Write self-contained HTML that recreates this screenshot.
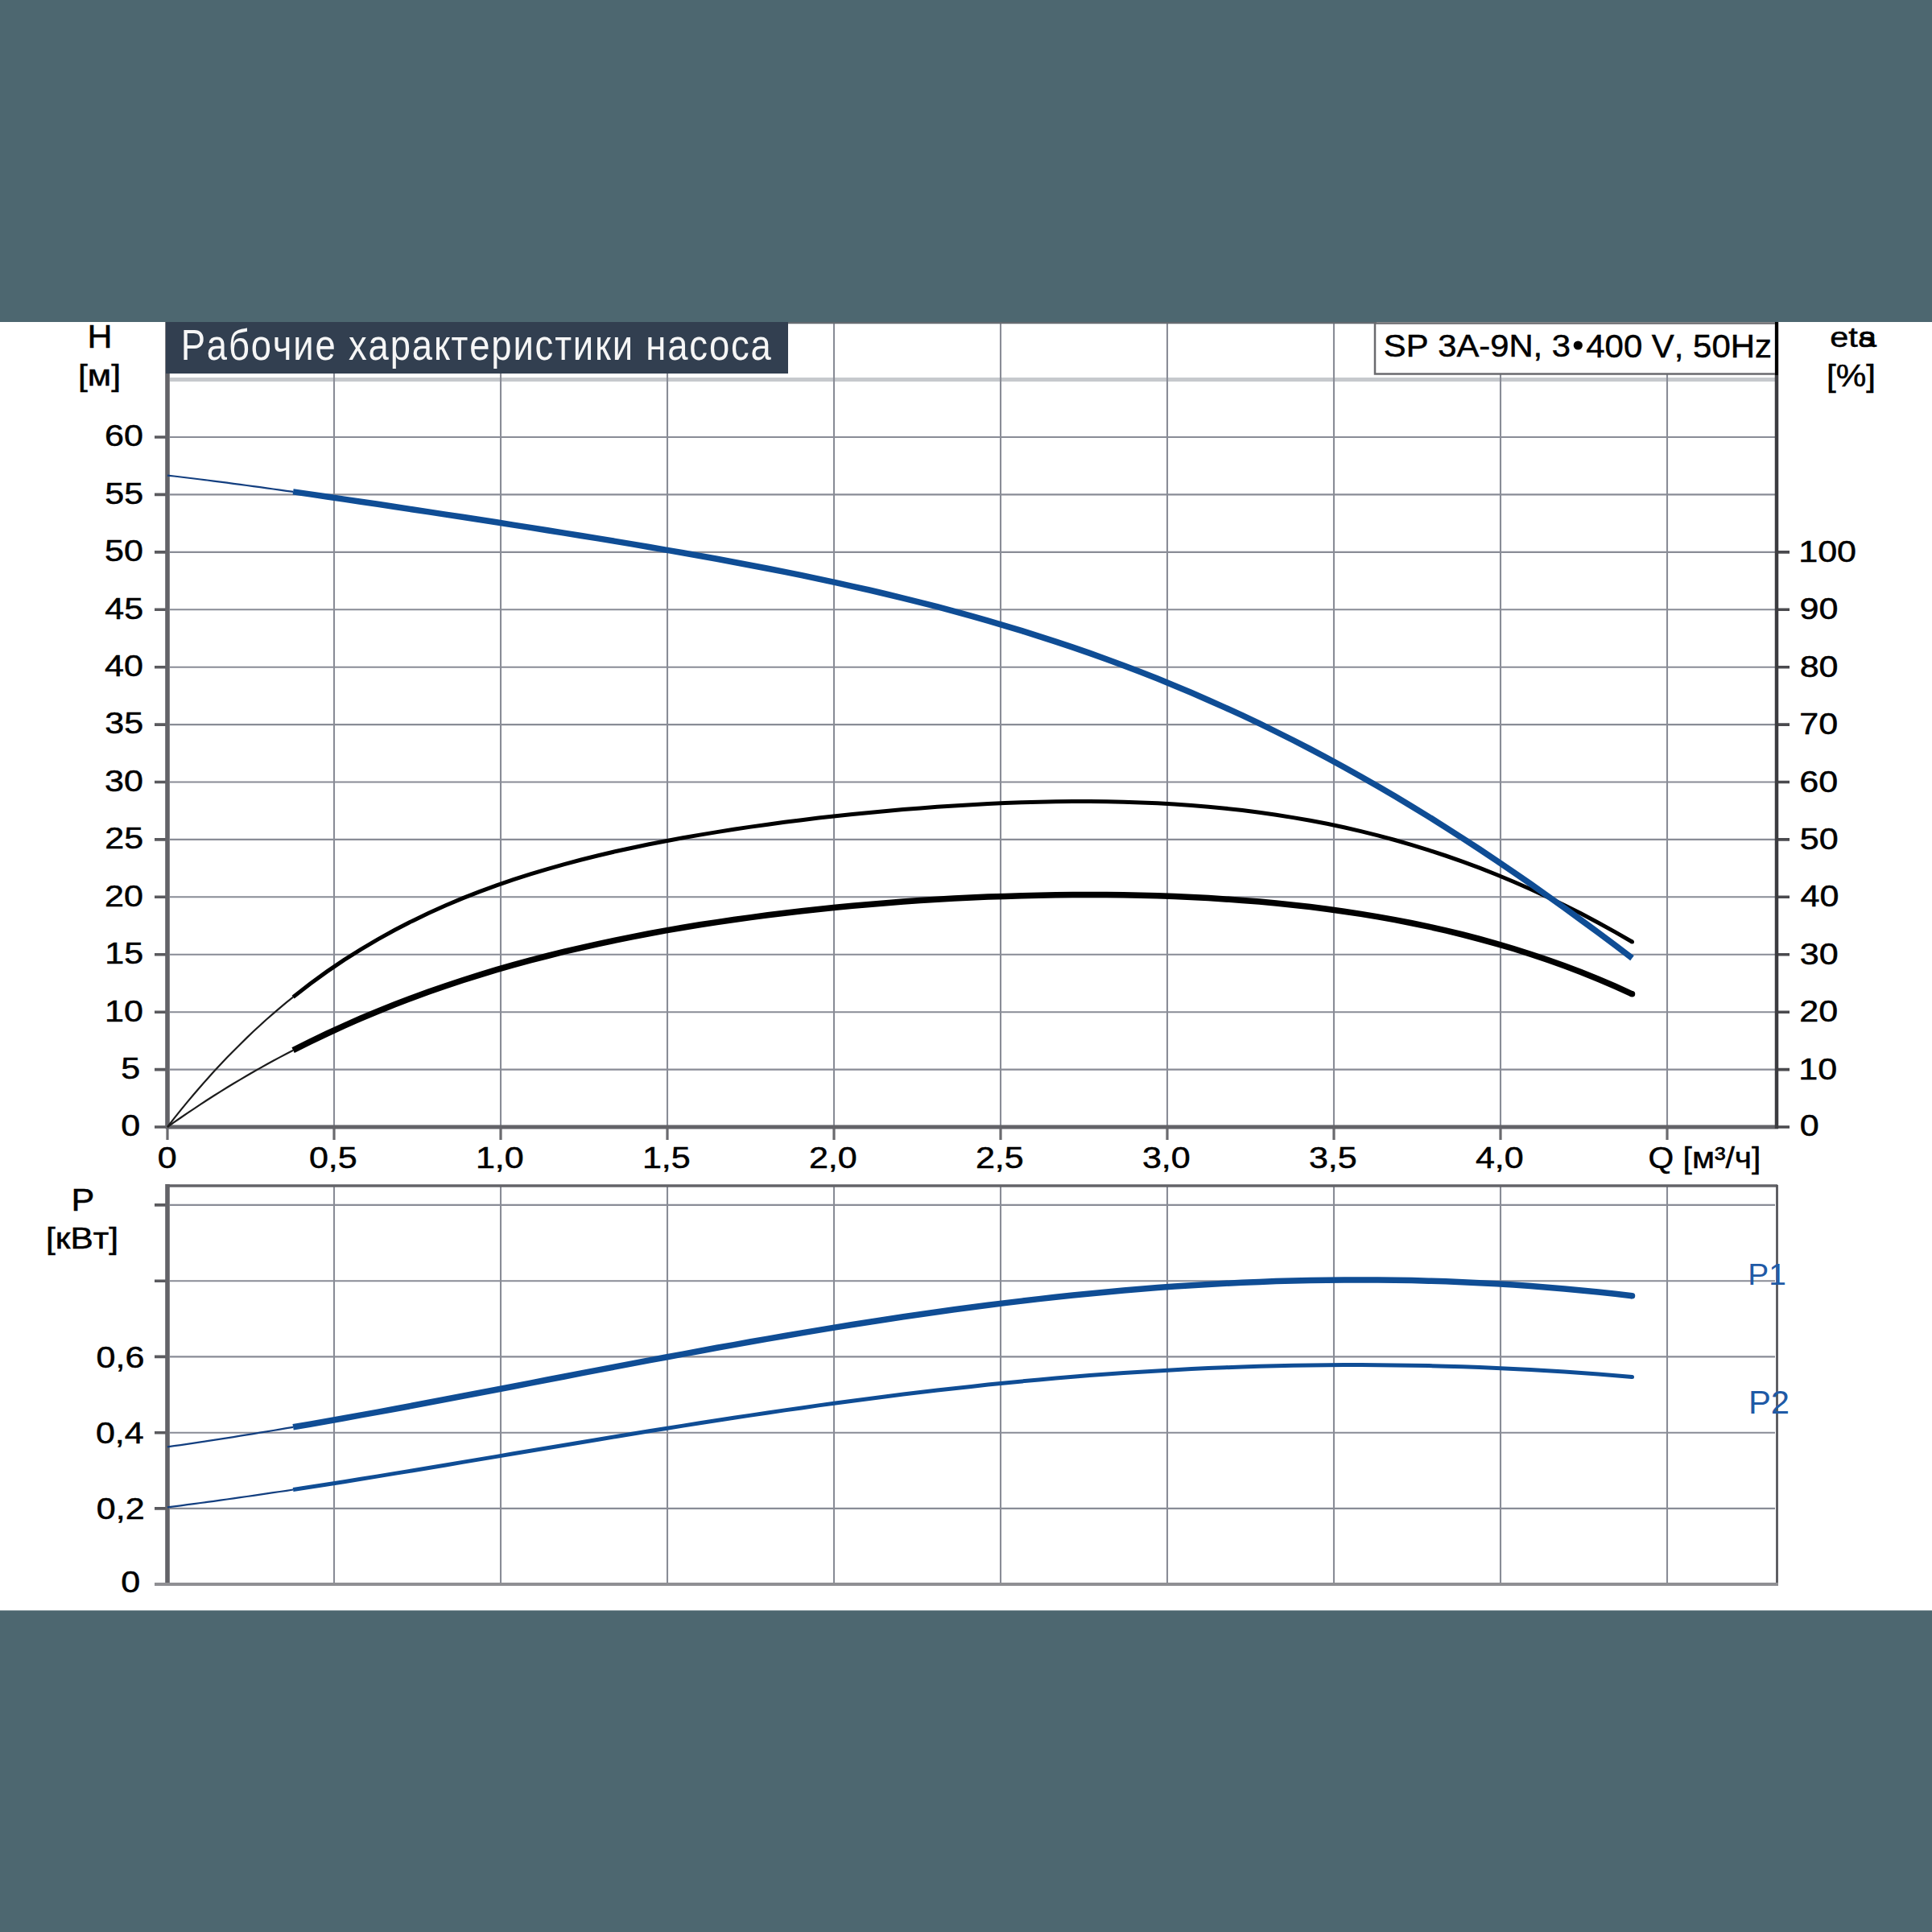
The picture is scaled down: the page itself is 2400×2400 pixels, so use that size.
<!DOCTYPE html><html><head><meta charset="utf-8"><style>html,body{margin:0;padding:0;background:#4d6770;}svg{display:block;}text{font-family:"Liberation Sans",sans-serif;font-kerning:none;}text.b{stroke:#000;stroke-width:0.5px;}</style></head><body>
<svg width="2400" height="2400" viewBox="0 0 2400 2400">
<rect x="0" y="0" width="2400" height="2400" fill="#4d6770"/>
<rect x="0" y="400" width="2400" height="1600.5" fill="#fff"/>
<path d="M211,471.6 H2205" stroke="#c6c9cd" stroke-width="5" fill="none"/>
<path d="M211,1328.6 H2205 M211,1257.2 H2205 M211,1185.8 H2205 M211,1114.3 H2205 M211,1042.9 H2205 M211,971.5 H2205 M211,900.1 H2205 M211,828.7 H2205 M211,757.3 H2205 M211,685.9 H2205 M211,614.4 H2205 M211,543.0 H2205 M415.0,401 V1400 M622.0,401 V1400 M829.0,401 V1400 M1036.0,401 V1400 M1243.0,401 V1400 M1450.0,401 V1400 M1657.0,401 V1400 M1864.0,401 V1400 M2071.0,401 V1400" stroke="#898c96" stroke-width="2.1" fill="none"/>
<path d="M975,401.2 H1710" stroke="#646a70" stroke-width="2.2" fill="none"/>
<path d="M211,1873.9 H2205 M211,1779.7 H2205 M211,1685.4 H2205 M211,1591.2 H2205 M211,1496.9 H2205 M415.0,1474 V1968 M622.0,1474 V1968 M829.0,1474 V1968 M1036.0,1474 V1968 M1243.0,1474 V1968 M1450.0,1474 V1968 M1657.0,1474 V1968 M1864.0,1474 V1968 M2071.0,1474 V1968" stroke="#898c96" stroke-width="2.1" fill="none"/>
<path d="M192,1400.0 H206 M192,1328.6 H206 M192,1257.2 H206 M192,1185.8 H206 M192,1114.3 H206 M192,1042.9 H206 M192,971.5 H206 M192,900.1 H206 M192,828.7 H206 M192,757.3 H206 M192,685.9 H206 M192,614.4 H206 M192,543.0 H206" stroke="#5a5a5e" stroke-width="3.6" fill="none"/>
<path d="M2209,1400.0 H2223 M2209,1328.6 H2223 M2209,1257.2 H2223 M2209,1185.8 H2223 M2209,1114.3 H2223 M2209,1042.9 H2223 M2209,971.5 H2223 M2209,900.1 H2223 M2209,828.7 H2223 M2209,757.3 H2223 M2209,685.9 H2223" stroke="#4a4a4e" stroke-width="3.6" fill="none"/>
<path d="M208.0,1400 V1416 M415.0,1400 V1416 M622.0,1400 V1416 M829.0,1400 V1416 M1036.0,1400 V1416 M1243.0,1400 V1416 M1450.0,1400 V1416 M1657.0,1400 V1416 M1864.0,1400 V1416 M2071.0,1400 V1416" stroke="#6a6a6e" stroke-width="3.2" fill="none"/>
<path d="M208,400 V1402" stroke="#636368" stroke-width="5.6" fill="none"/>
<path d="M206,1400 H2209" stroke="#636368" stroke-width="5.2" fill="none"/>
<path d="M2207,400 V1402" stroke="#3c3c40" stroke-width="4.5" fill="none"/>
<path d="M192,1968.2 H206 M192,1873.9 H206 M192,1779.7 H206 M192,1685.4 H206 M192,1591.2 H206 M192,1496.9 H206" stroke="#5a5a5e" stroke-width="3.6" fill="none"/>
<path d="M206,1473 H2208" stroke="#636368" stroke-width="3.5" fill="none"/>
<path d="M2207.5,1472 V1968" stroke="#55555a" stroke-width="2.8" fill="none"/>
<path d="M208,1471 V1970" stroke="#636368" stroke-width="5.6" fill="none"/>
<path d="M192,1968 H2209" stroke="#8f8f93" stroke-width="4.2" fill="none"/>
<rect x="206" y="400" width="773" height="64" fill="#323f50"/>
<text transform="translate(224.67,447.08) scale(0.8616,1)" font-size="52.75" letter-spacing="2.117" fill="#f6f6f6">Рабочие характеристики насоса</text>
<rect x="1708" y="401.5" width="498" height="63" fill="#fff" stroke="#6a6a6e" stroke-width="2.5"/>
<path d="M2207,400 V466" stroke="#000" stroke-width="4"/>
<text class="b" transform="translate(1718.80,443.12) scale(1.0762,1)" font-size="38.84" fill="#000">SP 3A-9N, 3</text>
<text class="b" transform="translate(1970.24,443.50) scale(1.0494,1)" font-size="39.97" fill="#000">400 V, 50Hz</text>
<circle cx="1960.3" cy="429" r="5.6" fill="#000"/>
<path d="M208.0,1400.0 L216.2,1389.4 L224.4,1379.1 L232.6,1369.1 L240.9,1359.3 L249.1,1349.7 L257.3,1340.4 L265.5,1331.3 L273.7,1322.4 L281.9,1313.8 L290.1,1305.4 L298.4,1297.2 L306.6,1289.1 L314.8,1281.3 L323.0,1273.7 L331.2,1266.3 L339.4,1259.1 L347.6,1252.1 L355.9,1245.2 L364.1,1238.6" stroke="#1c1c1c" stroke-width="2.2" fill="none"/>
<path d="M364.1,1238.6 L385.1,1222.2 L406.2,1206.9 L427.2,1192.7 L448.3,1179.3 L469.4,1166.9 L490.4,1155.3 L511.5,1144.4 L532.5,1134.3 L553.6,1124.8 L574.6,1115.9 L595.7,1107.7 L616.8,1099.9 L637.8,1092.7 L658.9,1085.9 L679.9,1079.6 L701.0,1073.6 L722.0,1068.0 L743.1,1062.8 L764.1,1057.8 L785.2,1053.2 L806.3,1048.8 L827.3,1044.7 L848.4,1040.8 L869.4,1037.1 L890.5,1033.6 L911.5,1030.3 L932.6,1027.1 L953.7,1024.2 L974.7,1021.3 L995.8,1018.7 L1016.8,1016.1 L1037.9,1013.8 L1058.9,1011.5 L1080.0,1009.4 L1101.1,1007.4 L1122.1,1005.6 L1143.2,1003.9 L1164.2,1002.3 L1185.3,1000.9 L1206.3,999.7 L1227.4,998.5 L1248.4,997.6 L1269.5,996.8 L1290.6,996.2 L1311.6,995.8 L1332.7,995.6 L1353.7,995.6 L1374.8,995.8 L1395.8,996.2 L1416.9,996.9 L1438.0,997.8 L1459.0,999.0 L1480.1,1000.5 L1501.1,1002.2 L1522.2,1004.2 L1543.2,1006.6 L1564.3,1009.2 L1585.3,1012.2 L1606.4,1015.6 L1627.5,1019.3 L1648.5,1023.3 L1669.6,1027.8 L1690.6,1032.6 L1711.7,1037.9 L1732.7,1043.5 L1753.8,1049.6 L1774.9,1056.1 L1795.9,1063.0 L1817.0,1070.4 L1838.0,1078.2 L1859.1,1086.5 L1880.1,1095.3 L1901.2,1104.5 L1922.2,1114.2 L1943.3,1124.4 L1964.4,1135.1 L1985.4,1146.2 L2006.5,1157.9 L2027.5,1170.0" stroke="#000" stroke-width="5" fill="none"/>
<circle cx="2027.5" cy="1170.0" r="2.50" fill="#000"/>
<path d="M208.0,1400.0 L216.2,1394.2 L224.4,1388.5 L232.6,1382.8 L240.9,1377.3 L249.1,1371.9 L257.3,1366.5 L265.5,1361.3 L273.7,1356.1 L281.9,1351.0 L290.1,1346.0 L298.4,1341.1 L306.6,1336.3 L314.8,1331.5 L323.0,1326.9 L331.2,1322.3 L339.4,1317.8 L347.6,1313.4 L355.9,1309.0 L364.1,1304.7" stroke="#1c1c1c" stroke-width="2.2" fill="none"/>
<path d="M364.1,1304.7 L385.1,1294.1 L406.2,1284.0 L427.2,1274.3 L448.3,1265.0 L469.4,1256.2 L490.4,1247.8 L511.5,1239.7 L532.5,1232.0 L553.6,1224.7 L574.6,1217.7 L595.7,1211.1 L616.8,1204.7 L637.8,1198.7 L658.9,1192.9 L679.9,1187.5 L701.0,1182.2 L722.0,1177.3 L743.1,1172.6 L764.1,1168.1 L785.2,1163.8 L806.3,1159.8 L827.3,1155.9 L848.4,1152.3 L869.4,1148.8 L890.5,1145.6 L911.5,1142.5 L932.6,1139.6 L953.7,1136.8 L974.7,1134.2 L995.8,1131.8 L1016.8,1129.5 L1037.9,1127.3 L1058.9,1125.3 L1080.0,1123.4 L1101.1,1121.7 L1122.1,1120.1 L1143.2,1118.6 L1164.2,1117.3 L1185.3,1116.1 L1206.3,1115.1 L1227.4,1114.1 L1248.4,1113.4 L1269.5,1112.7 L1290.6,1112.2 L1311.6,1111.8 L1332.7,1111.6 L1353.7,1111.5 L1374.8,1111.6 L1395.8,1111.8 L1416.9,1112.2 L1438.0,1112.8 L1459.0,1113.5 L1480.1,1114.5 L1501.1,1115.6 L1522.2,1116.9 L1543.2,1118.4 L1564.3,1120.1 L1585.3,1122.0 L1606.4,1124.2 L1627.5,1126.6 L1648.5,1129.3 L1669.6,1132.2 L1690.6,1135.4 L1711.7,1138.9 L1732.7,1142.6 L1753.8,1146.7 L1774.9,1151.1 L1795.9,1155.9 L1817.0,1161.0 L1838.0,1166.5 L1859.1,1172.3 L1880.1,1178.5 L1901.2,1185.2 L1922.2,1192.3 L1943.3,1199.8 L1964.4,1207.8 L1985.4,1216.3 L2006.5,1225.3 L2027.5,1234.8" stroke="#000" stroke-width="7.5" fill="none"/>
<circle cx="2027.5" cy="1234.8" r="3.75" fill="#000"/>
<path d="M208.0,590.6 L216.2,591.5 L224.4,592.5 L232.6,593.5 L240.9,594.5 L249.1,595.5 L257.3,596.5 L265.5,597.6 L273.7,598.6 L281.9,599.7 L290.1,600.8 L298.4,601.9 L306.6,603.0 L314.8,604.1 L323.0,605.2 L331.2,606.3 L339.4,607.5 L347.6,608.6 L355.9,609.8 L364.1,610.9" stroke="#133f80" stroke-width="2.2" fill="none"/>
<path d="M364.1,610.9 L385.1,613.9 L406.2,617.0 L427.2,620.1 L448.3,623.2 L469.4,626.3 L490.4,629.5 L511.5,632.7 L532.5,635.9 L553.6,639.1 L574.6,642.3 L595.7,645.5 L616.8,648.8 L637.8,652.1 L658.9,655.4 L679.9,658.8 L701.0,662.1 L722.0,665.5 L743.1,668.9 L764.1,672.4 L785.2,675.9 L806.3,679.5 L827.3,683.1 L848.4,686.8 L869.4,690.5 L890.5,694.3 L911.5,698.2 L932.6,702.2 L953.7,706.3 L974.7,710.4 L995.8,714.7 L1016.8,719.1 L1037.9,723.6 L1058.9,728.3 L1080.0,733.0 L1101.1,738.0 L1122.1,743.1 L1143.2,748.3 L1164.2,753.7 L1185.3,759.3 L1206.3,765.1 L1227.4,771.1 L1248.4,777.3 L1269.5,783.7 L1290.6,790.3 L1311.6,797.1 L1332.7,804.1 L1353.7,811.4 L1374.8,819.0 L1395.8,826.8 L1416.9,834.8 L1438.0,843.1 L1459.0,851.7 L1480.1,860.5 L1501.1,869.7 L1522.2,879.1 L1543.2,888.7 L1564.3,898.7 L1585.3,909.0 L1606.4,919.5 L1627.5,930.4 L1648.5,941.5 L1669.6,953.0 L1690.6,964.7 L1711.7,976.7 L1732.7,989.1 L1753.8,1001.7 L1774.9,1014.6 L1795.9,1027.8 L1817.0,1041.3 L1838.0,1055.0 L1859.1,1069.1 L1880.1,1083.4 L1901.2,1097.9 L1922.2,1112.7 L1943.3,1127.8 L1964.4,1143.1 L1985.4,1158.6 L2006.5,1174.3 L2027.5,1190.2" stroke="#0f4d95" stroke-width="7.5" fill="none"/>
<path d="M208.0,1797.4 L216.2,1796.2 L224.4,1795.1 L232.6,1793.9 L240.9,1792.6 L249.1,1791.4 L257.3,1790.2 L265.5,1788.9 L273.7,1787.6 L281.9,1786.3 L290.1,1785.1 L298.4,1783.7 L306.6,1782.4 L314.8,1781.1 L323.0,1779.7 L331.2,1778.4 L339.4,1777.0 L347.6,1775.6 L355.9,1774.2 L364.1,1772.8" stroke="#133f80" stroke-width="2.2" fill="none"/>
<path d="M364.1,1772.8 L385.1,1769.2 L406.2,1765.5 L427.2,1761.7 L448.3,1757.9 L469.4,1754.1 L490.4,1750.2 L511.5,1746.3 L532.5,1742.3 L553.6,1738.3 L574.6,1734.3 L595.7,1730.3 L616.8,1726.2 L637.8,1722.2 L658.9,1718.1 L679.9,1714.0 L701.0,1710.0 L722.0,1705.9 L743.1,1701.9 L764.1,1697.9 L785.2,1693.9 L806.3,1689.9 L827.3,1686.0 L848.4,1682.1 L869.4,1678.2 L890.5,1674.3 L911.5,1670.6 L932.6,1666.8 L953.7,1663.1 L974.7,1659.5 L995.8,1655.9 L1016.8,1652.4 L1037.9,1648.9 L1058.9,1645.5 L1080.0,1642.2 L1101.1,1639.0 L1122.1,1635.8 L1143.2,1632.7 L1164.2,1629.7 L1185.3,1626.8 L1206.3,1624.0 L1227.4,1621.2 L1248.4,1618.6 L1269.5,1616.1 L1290.6,1613.6 L1311.6,1611.3 L1332.7,1609.1 L1353.7,1607.0 L1374.8,1605.0 L1395.8,1603.1 L1416.9,1601.3 L1438.0,1599.6 L1459.0,1598.1 L1480.1,1596.7 L1501.1,1595.4 L1522.2,1594.3 L1543.2,1593.3 L1564.3,1592.4 L1585.3,1591.6 L1606.4,1591.0 L1627.5,1590.5 L1648.5,1590.2 L1669.6,1590.0 L1690.6,1589.9 L1711.7,1590.0 L1732.7,1590.2 L1753.8,1590.6 L1774.9,1591.2 L1795.9,1591.8 L1817.0,1592.7 L1838.0,1593.7 L1859.1,1594.8 L1880.1,1596.1 L1901.2,1597.6 L1922.2,1599.2 L1943.3,1601.0 L1964.4,1603.0 L1985.4,1605.1 L2006.5,1607.3 L2027.5,1609.8" stroke="#0f4d95" stroke-width="7.5" fill="none"/>
<circle cx="2027.5" cy="1609.8" r="3.75" fill="#0f4d95"/>
<path d="M208.0,1872.4 L216.2,1871.3 L224.4,1870.3 L232.6,1869.2 L240.9,1868.1 L249.1,1867.0 L257.3,1865.9 L265.5,1864.8 L273.7,1863.7 L281.9,1862.5 L290.1,1861.4 L298.4,1860.2 L306.6,1859.0 L314.8,1857.8 L323.0,1856.6 L331.2,1855.4 L339.4,1854.2 L347.6,1853.0 L355.9,1851.8 L364.1,1850.5" stroke="#133f80" stroke-width="2.2" fill="none"/>
<path d="M364.1,1850.5 L385.1,1847.3 L406.2,1844.0 L427.2,1840.7 L448.3,1837.3 L469.4,1833.9 L490.4,1830.4 L511.5,1827.0 L532.5,1823.5 L553.6,1820.0 L574.6,1816.4 L595.7,1812.9 L616.8,1809.4 L637.8,1805.8 L658.9,1802.3 L679.9,1798.7 L701.0,1795.2 L722.0,1791.7 L743.1,1788.2 L764.1,1784.7 L785.2,1781.3 L806.3,1777.8 L827.3,1774.5 L848.4,1771.1 L869.4,1767.8 L890.5,1764.5 L911.5,1761.3 L932.6,1758.1 L953.7,1755.0 L974.7,1751.9 L995.8,1748.9 L1016.8,1745.9 L1037.9,1743.0 L1058.9,1740.2 L1080.0,1737.4 L1101.1,1734.7 L1122.1,1732.1 L1143.2,1729.5 L1164.2,1727.1 L1185.3,1724.7 L1206.3,1722.4 L1227.4,1720.1 L1248.4,1718.0 L1269.5,1715.9 L1290.6,1714.0 L1311.6,1712.1 L1332.7,1710.3 L1353.7,1708.6 L1374.8,1707.1 L1395.8,1705.6 L1416.9,1704.2 L1438.0,1702.9 L1459.0,1701.7 L1480.1,1700.6 L1501.1,1699.6 L1522.2,1698.7 L1543.2,1698.0 L1564.3,1697.3 L1585.3,1696.7 L1606.4,1696.3 L1627.5,1695.9 L1648.5,1695.7 L1669.6,1695.6 L1690.6,1695.6 L1711.7,1695.7 L1732.7,1695.9 L1753.8,1696.2 L1774.9,1696.6 L1795.9,1697.2 L1817.0,1697.8 L1838.0,1698.6 L1859.1,1699.5 L1880.1,1700.5 L1901.2,1701.6 L1922.2,1702.8 L1943.3,1704.1 L1964.4,1705.5 L1985.4,1707.1 L2006.5,1708.7 L2027.5,1710.5" stroke="#0f4d95" stroke-width="5" fill="none"/>
<circle cx="2027.5" cy="1710.5" r="2.50" fill="#0f4d95"/>
<text class="b" transform="translate(150.25,1411.34) scale(1.1720,1)" font-size="36.72" fill="#000">0</text>
<text class="b" transform="translate(150.37,1339.92) scale(1.1720,1)" font-size="36.72" fill="#000">5</text>
<text class="b" transform="translate(130.11,1268.51) scale(1.1720,1)" font-size="36.72" fill="#000">10</text>
<text class="b" transform="translate(130.24,1197.09) scale(1.1720,1)" font-size="36.72" fill="#000">15</text>
<text class="b" transform="translate(130.11,1125.68) scale(1.1720,1)" font-size="36.72" fill="#000">20</text>
<text class="b" transform="translate(130.24,1054.26) scale(1.1720,1)" font-size="36.72" fill="#000">25</text>
<text class="b" transform="translate(130.11,982.85) scale(1.1720,1)" font-size="36.72" fill="#000">30</text>
<text class="b" transform="translate(130.24,911.43) scale(1.1720,1)" font-size="36.72" fill="#000">35</text>
<text class="b" transform="translate(130.11,840.02) scale(1.1720,1)" font-size="36.72" fill="#000">40</text>
<text class="b" transform="translate(130.24,768.60) scale(1.1720,1)" font-size="36.72" fill="#000">45</text>
<text class="b" transform="translate(130.11,697.19) scale(1.1720,1)" font-size="36.72" fill="#000">50</text>
<text class="b" transform="translate(130.24,625.77) scale(1.1720,1)" font-size="36.72" fill="#000">55</text>
<text class="b" transform="translate(130.11,554.36) scale(1.1720,1)" font-size="36.72" fill="#000">60</text>
<text class="b" transform="translate(2235.82,1411.14) scale(1.1720,1)" font-size="36.72" fill="#000">0</text>
<text class="b" transform="translate(2234.22,1340.72) scale(1.1720,1)" font-size="36.72" fill="#000">10</text>
<text class="b" transform="translate(2235.34,1269.31) scale(1.1720,1)" font-size="36.72" fill="#000">20</text>
<text class="b" transform="translate(2235.86,1197.89) scale(1.1720,1)" font-size="36.72" fill="#000">30</text>
<text class="b" transform="translate(2236.51,1126.48) scale(1.1720,1)" font-size="36.72" fill="#000">40</text>
<text class="b" transform="translate(2235.78,1055.06) scale(1.1720,1)" font-size="36.72" fill="#000">50</text>
<text class="b" transform="translate(2235.31,983.65) scale(1.1720,1)" font-size="36.72" fill="#000">60</text>
<text class="b" transform="translate(2235.29,912.23) scale(1.1720,1)" font-size="36.72" fill="#000">70</text>
<text class="b" transform="translate(2235.63,840.82) scale(1.1720,1)" font-size="36.72" fill="#000">80</text>
<text class="b" transform="translate(2235.48,769.40) scale(1.1720,1)" font-size="36.72" fill="#000">90</text>
<text class="b" transform="translate(2234.22,697.99) scale(1.1720,1)" font-size="36.72" fill="#000">100</text>
<text class="b" transform="translate(195.82,1450.64) scale(1.1720,1)" font-size="36.72" fill="#000">0</text>
<text class="b" transform="translate(383.89,1450.64) scale(1.1720,1)" font-size="36.72" fill="#000">0,5</text>
<text class="b" transform="translate(590.89,1450.64) scale(1.1720,1)" font-size="36.72" fill="#000">1,0</text>
<text class="b" transform="translate(797.89,1450.64) scale(1.1720,1)" font-size="36.72" fill="#000">1,5</text>
<text class="b" transform="translate(1004.89,1450.64) scale(1.1720,1)" font-size="36.72" fill="#000">2,0</text>
<text class="b" transform="translate(1211.89,1450.64) scale(1.1720,1)" font-size="36.72" fill="#000">2,5</text>
<text class="b" transform="translate(1418.89,1450.64) scale(1.1720,1)" font-size="36.72" fill="#000">3,0</text>
<text class="b" transform="translate(1625.89,1450.64) scale(1.1720,1)" font-size="36.72" fill="#000">3,5</text>
<text class="b" transform="translate(1832.89,1450.64) scale(1.1720,1)" font-size="36.72" fill="#000">4,0</text>
<text class="b" transform="translate(2047.57,1451.21) scale(1.0856,1)" font-size="37.55" fill="#000">Q [м³/ч]</text>
<text class="b" transform="translate(108.48,432.00) scale(1.0557,1)" font-size="40.70" fill="#000">H</text>
<text class="b" transform="translate(96.96,479.21) scale(1.1373,1)" font-size="37.55" fill="#000">[м]</text>
<text class="b" transform="translate(2273.23,431.25) scale(1.1615,1)" font-size="35.78" fill="#000">eta</text>
<text class="b" transform="translate(2309.05,431.25) scale(1.1615,1)" font-size="35.78" fill="#000">s</text>
<text class="b" transform="translate(2268.99,479.52) scale(1.1121,1)" font-size="37.98" fill="#000">[%]</text>
<text class="b" transform="translate(88.46,1504.00) scale(1.1012,1)" font-size="39.24" fill="#000">P</text>
<text class="b" transform="translate(56.97,1551.43) scale(1.1657,1)" font-size="36.48" fill="#000">[кВт]</text>
<text class="b" transform="translate(119.57,1698.56) scale(1.1720,1)" font-size="36.72" fill="#000">0,6</text>
<text class="b" transform="translate(118.94,1792.81) scale(1.1720,1)" font-size="36.72" fill="#000">0,4</text>
<text class="b" transform="translate(119.84,1887.06) scale(1.1720,1)" font-size="36.72" fill="#000">0,2</text>
<text class="b" transform="translate(150.25,1978.14) scale(1.1720,1)" font-size="36.72" fill="#000">0</text>
<text transform="translate(2171.31,1595.50) scale(1.0296,1)" font-size="37.79" fill="#1f5aa6">P1</text>
<text transform="translate(2171.97,1756.00) scale(1.0458,1)" font-size="39.97" fill="#1f5aa6">P2</text>
</svg></body></html>
